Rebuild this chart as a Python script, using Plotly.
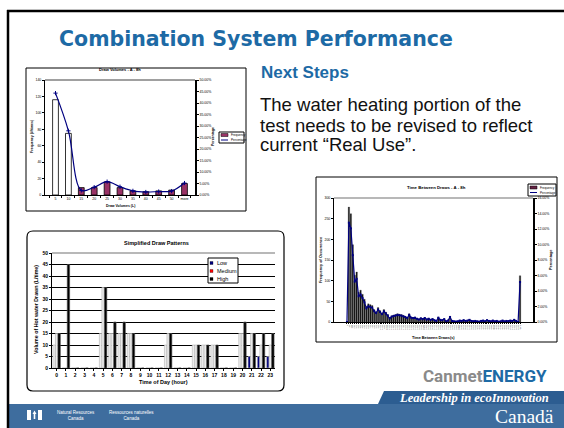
import plotly.graph_objects as go

W, H = 564, 428

# ---- Draw Volumes - A - 8h ----
dv_bins = ["5", "10", "15", "20", "25", "30", "35", "40", "45", "50", "more"]
dv_freq = [116, 75, 9, 9, 16, 9, 5, 4, 5, 6, 14]
dv_pct = [44.3, 27.9, 2.0, 3.4, 5.8, 3.6, 1.8, 1.3, 1.5, 1.7, 5.2]

# ---- Simplified Draw Patterns ----
hours = [0, 1, 2, 3, 4, 5, 6, 7, 8, 9, 10, 11, 12, 13, 14, 15, 16, 17, 18, 19, 20, 21, 22, 23]
low = [10, 0, 0, 0, 0, 15, 15, 15, 15, 0, 0, 0, 10, 0, 0, 10, 10, 10, 0, 0, 15, 5, 5, 5]
medium = [15, 0, 0, 0, 0, 35, 15, 15, 15, 0, 0, 0, 15, 0, 0, 10, 10, 10, 0, 0, 15, 15, 10, 10]
high = [15, 45, 0, 0, 0, 35, 20, 20, 15, 0, 0, 0, 15, 0, 0, 10, 10, 10, 0, 0, 20, 15, 15, 15]

# ---- Time Between Draws - A - 8h ----
tbd_bins = ("0 60 120 180 240 300 360 420 480 540 600 660 720 780 840 900 960 1020 1080 1140 "
            "1200 1260 1320 1380 1440 1500 1560 1620 1680 1740 1800 1860 1920 1980 2040 2100 "
            "2160 2220 2280 2340 2400 2460 2520 2580 2640 2700 2760 2820 2880 2940 3000 3060 "
            "3120 3180 3240 3300 3360 3420 3480 3540 3600 3660 3720 3780 3840 3900 3960 4020 "
            "4080 4140 4200 4260 4320 4380 4440 4500 4560 4620 4680 4740 4800 4860 4920 4980 "
            "5040 5100 5160 5220 5280 More").split()
tbd_freq = [0, 278, 262, 187, 113, 121, 72, 77, 67, 55, 38, 44, 42, 40, 30, 25, 35, 28, 22, 30,
            24, 18, 10, 15, 17, 18, 20, 19, 18, 16, 14, 11, 20, 12, 11, 12, 9, 7, 10, 8,
            11, 7, 9, 6, 8, 5, 3, 12, 6, 5, 8, 2, 4, 14, 3, 2, 1, 2, 4, 3,
            5, 3, 4, 6, 3, 2, 3, 2, 1, 3, 4, 2, 5, 3, 2, 4, 2, 3, 1, 2,
            4, 2, 3, 2, 4, 3, 6, 3, 0, 112]
# percentage series is each bin's share of all draws
tbd_total = sum(tbd_freq)
tbd_pct = [100 * v / tbd_total for v in tbd_freq]

BLUE = "#1d6aa5"
NAVY = "#000080"
MAROON = "#993366"
LIGHT = "#ececec"
FONT = "Arial, Liberation Sans, sans-serif"


def fx(v):
    return v / W


def fy(v):
    return 1 - v / H


fig = go.Figure()

# chart 1
fig.add_trace(go.Bar(
    x=dv_bins, y=dv_freq, xaxis="x", yaxis="y", width=0.45,
    marker=dict(color=["white", "white"] + [MAROON] * 9, line=dict(color="black", width=0.8)),
))
fig.add_trace(go.Scatter(
    x=dv_bins, y=dv_pct, xaxis="x", yaxis="y2", mode="lines+markers",
    line=dict(color=NAVY, width=1.2, shape="spline"),
    marker=dict(symbol="cross-thin", size=3, color=NAVY, line=dict(color=NAVY, width=1)),
))

# chart 2
low_colors = [NAVY if h >= 21 else LIGHT for h in hours]
for vals, off, cols, edge in [
    (low, -0.40, low_colors, "#b5b5b5"),
    (medium, -0.13, LIGHT, "#b5b5b5"),
    (high, 0.14, "black", "#555555"),
]:
    fig.add_trace(go.Bar(
        x=hours, y=vals, xaxis="x3", yaxis="y3", width=0.26, offset=off,
        marker=dict(color=cols, line=dict(color=edge, width=0.6)),
    ))

# chart 3
fig.add_trace(go.Bar(
    x=tbd_bins, y=tbd_freq, xaxis="x4", yaxis="y4", width=0.75,
    marker=dict(color="#111111", line=dict(color="#444444", width=0.3)),
))
fig.add_trace(go.Scatter(
    x=tbd_bins, y=tbd_pct, xaxis="x4", yaxis="y5", mode="lines+markers",
    line=dict(color=NAVY, width=1.2),
    marker=dict(symbol="square", size=2, color=NAVY),
))

ax = dict(showline=True, linecolor="black", linewidth=1, ticks="outside", ticklen=2,
          tickcolor="black", tickwidth=0.7, showgrid=False, zeroline=False, fixedrange=True)

fig.update_layout(
    width=W, height=H, margin=dict(l=0, r=0, t=0, b=0),
    template="none", paper_bgcolor="white", plot_bgcolor="white",
    showlegend=False, barmode="overlay",
    font=dict(family=FONT, color="black"),
    xaxis=dict(ax, domain=[fx(45), fx(195)], anchor="y", type="category", tickson="boundaries",
               tickangle=0, tickfont=dict(size=3.5)),
    yaxis=dict(ax, domain=[fy(195), fy(80)], anchor="x", range=[0, 140], dtick=20,
               tickfont=dict(size=3.5)),
    yaxis2=dict(ax, overlaying="y", side="right", anchor="x", range=[0, 50], dtick=5,
                tickformat=".2f", ticksuffix="%", linewidth=1.5, tickfont=dict(size=3.5)),
    xaxis3=dict(ax, domain=[fx(52), fx(275)], anchor="y3", range=[-0.5, 23.5],
                tickmode="array", tickvals=hours, tickangle=0, tickfont=dict(size=5, weight="bold")),
    yaxis3=dict(ax, domain=[fy(368), fy(253)], anchor="x3", range=[0, 50], dtick=5,
                showgrid=True, gridcolor="black", gridwidth=1,
                tickfont=dict(size=5, weight="bold")),
    xaxis4=dict(ax, domain=[fx(334), fx(533)], anchor="y4", type="category",
                tickmode="array", tickvals=tbd_bins, ticktext=tbd_bins, tickangle=-90,
                ticklen=1, tickfont=dict(size=2.2, color="#444")),
    yaxis4=dict(ax, domain=[fy(322), fy(198)], anchor="x4", range=[0, 300], dtick=50,
                tickfont=dict(size=3.5)),
    yaxis5=dict(ax, overlaying="y4", side="right", anchor="x4", range=[0, 16], dtick=2,
                tickformat=".2f", ticksuffix="%", linewidth=1.5, tickfont=dict(size=3.5)),
)

shapes = []


def rect(x0, y0, x1, y1, line="black", width=1, fill=None):
    shapes.append(dict(type="rect", xref="paper", yref="paper", x0=fx(x0), x1=fx(x1),
                       y0=fy(y1), y1=fy(y0), line=dict(color=line, width=width),
                       fillcolor=fill, layer="above"))


def hline(x0, x1, y, color="black", width=1):
    shapes.append(dict(type="line", xref="paper", yref="paper", x0=fx(x0), x1=fx(x1),
                       y0=fy(y), y1=fy(y), line=dict(color=color, width=width)))


def path(pts, fill):
    d = "M " + " L ".join(f"{fx(a):.5f},{fy(b):.5f}" for a, b in pts) + " Z"
    shapes.append(dict(type="path", xref="paper", yref="paper", path=d, fillcolor=fill,
                       line=dict(color=fill, width=0)))


# slide frame + footer
shapes.append(dict(type="rect", xref="paper", yref="paper", x0=fx(9), x1=1, y0=0, y1=fy(404),
                   fillcolor="#3e6d9e", line=dict(width=0), layer="below"))
hline(7, W, 11, "black", 2.5)
shapes.append(dict(type="line", xref="paper", yref="paper", x0=fx(8), x1=fx(8), y0=0, y1=fy(10),
                   line=dict(color="black", width=2.5)))
path([(378, 404), (384, 391), (W, 391), (W, 404)], "#2c5d91")

# chart boxes
rect(26, 68, 246, 211)
rect(316, 177, 557, 342)
r = 6
x0, y0, x1, y1 = 27, 231, 284, 391
d = (f"M {fx(x0 + r)},{fy(y0)} L {fx(x1 - r)},{fy(y0)} Q {fx(x1)},{fy(y0)} {fx(x1)},{fy(y0 + r)} "
     f"L {fx(x1)},{fy(y1 - r)} Q {fx(x1)},{fy(y1)} {fx(x1 - r)},{fy(y1)} "
     f"L {fx(x0 + r)},{fy(y1)} Q {fx(x0)},{fy(y1)} {fx(x0)},{fy(y1 - r)} "
     f"L {fx(x0)},{fy(y0 + r)} Q {fx(x0)},{fy(y0)} {fx(x0 + r)},{fy(y0)} Z")
shapes.append(dict(type="path", xref="paper", yref="paper", path=d, line=dict(color="black", width=1.2)))

# plot-area top edges
hline(45, 195, 80, "#a0a0a0", 2)
hline(334, 533, 198, "#a0a0a0", 1.5)
hline(52, 275, 253, "#a0a0a0", 1.5)

# legends (drawn)
rect(219, 132, 244, 143, fill="white")
rect(221, 133.5, 228, 136.5, width=0.5, fill=MAROON)
hline(221, 228, 140, NAVY, 1)
rect(208, 258, 238, 283, fill="white")
rect(210, 261.5, 213, 264.5, width=0.3, fill=NAVY)
rect(210, 269.5, 213, 272.5, width=0.3, fill="red")
rect(210, 277.5, 213, 280.5, width=0.3, fill="black")
rect(528, 184, 556, 196, fill="white")
rect(530, 186, 537, 189, width=0.5, fill="#662244")
hline(530, 537, 192.5, NAVY, 1)

# footer flag
path([(27, 410), (31, 410), (31, 420), (27, 420)], "white")
path([(38, 410), (42, 410), (42, 420), (38, 420)], "white")
path([(34.5, 410.5), (36.5, 414), (35.3, 414), (35.3, 419), (33.7, 419), (33.7, 414), (32.5, 414)], "white")

fig.update_layout(shapes=shapes)

notes = []


def note(text, x, y, size, color="black", anchor="center", angle=0, family=FONT, bold=False, italic=False):
    notes.append(dict(text=text, x=fx(x), y=fy(y), xref="paper", yref="paper", showarrow=False,
                      xanchor=anchor, yanchor="middle", textangle=angle,
                      font=dict(size=size, color=color, family=family,
                                weight="bold" if bold else "normal",
                                style="italic" if italic else "normal")))


note("Combination System Performance", 256, 39, 20.5, BLUE, family="DejaVu Sans", bold=True)
note("Next Steps", 259, 73, 17, BLUE, "left", bold=True)
note("The water heating portion of the", 258, 105, 18.5, "#111", "left")
note("test needs to be revised to reflect", 258, 125, 18.5, "#111", "left")
note("current \u201cReal Use\u201d.", 258, 145, 18.5, "#111", "left")

note("Draw Volumes - A - 8h", 120, 70, 4, bold=True)
note("Frequency (#/times)", 32, 137, 3.5, angle=-90, bold=True)
note("Percentage", 213, 137, 3.5, angle=-90, bold=True)
note("Draw Volumes (L)", 120, 206, 3.5, bold=True)
note("Frequency", 229, 135, 3, anchor="left")
note("Percentage", 229, 140, 3, anchor="left")

note("Simplified Draw Patterns", 156, 243, 5.5, bold=True)
note("Volume of Hot water Drawn (L/time)", 36, 310, 5.3, angle=-90, bold=True)
note("Time of Day (hour)", 163, 382, 5.5, bold=True)
note("Low", 215, 263, 5.5, anchor="left")
note("Medium", 215, 271, 5.5, anchor="left")
note("High", 215, 279, 5.5, anchor="left")

note("Time Between Draws - A - 8h", 436, 187, 4.3, bold=True)
note("Frequency of Occurrence", 321, 260, 3.8, angle=-90, bold=True)
note("Percentage", 551, 260, 3.8, angle=-90, bold=True)
note("Time Between Draws(s)", 433, 338, 3.8, bold=True)
note("Frequency", 538, 187.5, 3, anchor="left")
note("Percentage", 538, 192.5, 3, anchor="left")

note("<span style='color:#8a8a8a'>Canmet</span><span style='color:%s'>ENERGY</span>" % BLUE,
     549, 376, 17, anchor="right", family="Roboto", bold=True)
note("Leadership in ecoInnovation", 474, 397.5, 12.5, "white", family="Liberation Serif", bold=True, italic=True)
note("Canad\u00e4", 556, 416, 19.5, "white", anchor="right", family="Liberation Serif")
note("Natural Resources<br>Canada", 55, 415, 4.5, "white", anchor="left")
note("Ressources naturelles<br>Canada", 107, 415, 4.5, "white", anchor="left")

fig.update_layout(annotations=notes)

# page body has a default 8px margin; drop it so the figure sits at the window origin
fig.write_html("out.html", config={"displayModeBar": False},
               post_script="document.body.style.margin='0';")
